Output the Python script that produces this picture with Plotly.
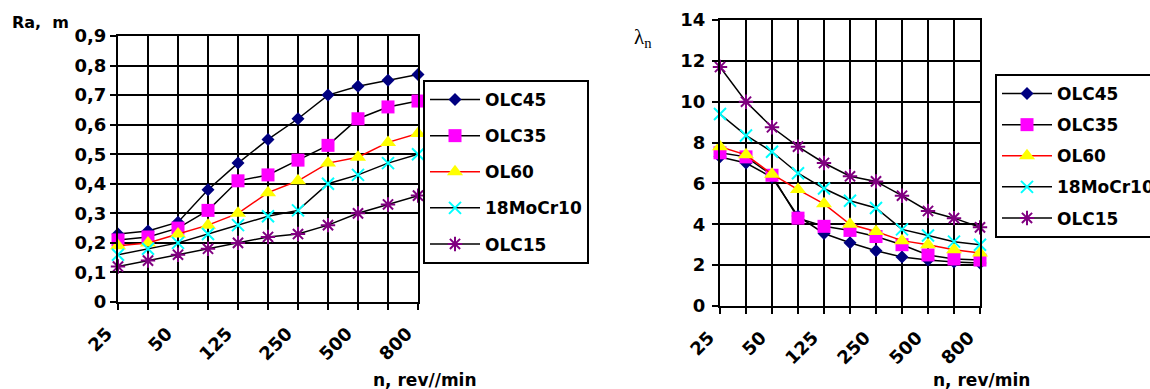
import plotly.graph_objects as go

# ---------------- data ----------------
rpm_labels = ["25", "", "50", "", "125", "", "250", "", "500", "", "800"]
positions = list(range(len(rpm_labels)))

series_names = ["OLC45", "OLC35", "OL60", "18MoCr10", "OLC15"]

ra_olc45 = [0.23, 0.24, 0.27, 0.38, 0.47, 0.55, 0.62, 0.70, 0.73, 0.75, 0.77]
ra_olc35 = [0.21, 0.22, 0.25, 0.31, 0.41, 0.43, 0.48, 0.53, 0.62, 0.66, 0.68]
ra_ol60 = [0.19, 0.20, 0.23, 0.26, 0.30, 0.37, 0.41, 0.47, 0.49, 0.54, 0.57]
ra_18mocr10 = [0.16, 0.18, 0.20, 0.23, 0.26, 0.29, 0.31, 0.40, 0.43, 0.47, 0.50]
ra_olc15 = [0.12, 0.14, 0.16, 0.18, 0.20, 0.22, 0.23, 0.26, 0.30, 0.33, 0.36]

lam_olc45 = [7.3, 7.0, 6.3, 4.4, 3.55, 3.1, 2.7, 2.4, 2.25, 2.15, 2.1]
lam_olc35 = [7.5, 7.3, 6.4, 4.3, 3.9, 3.7, 3.4, 3.0, 2.5, 2.3, 2.25]
lam_ol60 = [7.8, 7.4, 6.45, 5.7, 5.0, 4.0, 3.65, 3.2, 3.0, 2.75, 2.6]
lam_18mocr10 = [9.4, 8.35, 7.55, 6.5, 5.75, 5.15, 4.8, 3.75, 3.45, 3.15, 3.0]
lam_olc15 = [11.7, 10.0, 8.75, 7.8, 7.0, 6.35, 6.1, 5.4, 4.65, 4.3, 3.85]

ra_ticks = [0, 0.1, 0.2, 0.3, 0.4, 0.5, 0.6, 0.7, 0.8, 0.9]
ra_ticktext = ["0", "0,1", "0,2", "0,3", "0,4", "0,5", "0,6", "0,7", "0,8", "0,9"]
lam_ticks = [0, 2, 4, 6, 8, 10, 12, 14]
lam_ticktext = ["0", "2", "4", "6", "8", "10", "12", "14"]

ra_series = [ra_olc45, ra_olc35, ra_ol60, ra_18mocr10, ra_olc15]
lam_series = [lam_olc45, lam_olc35, lam_ol60, lam_18mocr10, lam_olc15]

# ---------------- styles ----------------
styles = [
    dict(line=dict(color="black", width=1.5),
         marker=dict(symbol="diamond", color="#000080", size=10, line=dict(width=0))),
    dict(line=dict(color="black", width=1.5),
         marker=dict(symbol="square", color="#FF00FF", size=13, line=dict(width=0))),
    dict(line=dict(color="#FF0000", width=1.5),
         marker=dict(symbol="triangle-up", color="#FFFF00", size=14, line=dict(width=0))),
    dict(line=dict(color="black", width=1.5),
         marker=dict(symbol="x-thin", color="#00FFFF", size=12,
                     line=dict(width=2, color="#00FFFF"))),
    dict(line=dict(color="black", width=1.5),
         marker=dict(symbol="asterisk", color="#800080", size=12,
                     line=dict(width=2, color="#800080"))),
]

FONT = "DejaVu Sans"
W, H = 1150, 389

fig = go.Figure()
for i, (name, ys) in enumerate(zip(series_names, ra_series)):
    fig.add_trace(go.Scatter(x=positions, y=ys, name=name, mode="lines+markers",
                             xaxis="x", yaxis="y", legend="legend",
                             legendgroup="L%d" % i, cliponaxis=False, **styles[i]))
for i, (name, ys) in enumerate(zip(series_names, lam_series)):
    fig.add_trace(go.Scatter(x=positions, y=ys, name=name, mode="lines+markers",
                             xaxis="x2", yaxis="y2", legend="legend2",
                             legendgroup="R%d" % i, cliponaxis=False, **styles[i]))

axis_common = dict(showgrid=True, gridcolor="black", gridwidth=2, zeroline=False,
                   showline=True, linecolor="black", linewidth=2, mirror=True,
                   ticks="outside", ticklen=6, tickwidth=2, tickcolor="black",
                   automargin=False,
                   tickfont=dict(family=FONT, size=18, color="black", weight="bold"))

xcommon = dict(axis_common, range=[0, 10], tickvals=positions, ticktext=rpm_labels,
               tickangle=-45, ticklabelshift=-11, ticklabelstandoff=6)

fig.update_layout(
    width=W, height=H,
    margin=dict(l=0, r=0, t=0, b=0, pad=0, autoexpand=False),
    paper_bgcolor="white", plot_bgcolor="white",
    showlegend=True,
    xaxis=dict(xcommon, domain=[118 / W, 418 / W], anchor="y"),
    yaxis=dict(axis_common, domain=[1 - 302 / H, 1 - 36 / H], range=[0, 0.9],
               tickvals=ra_ticks, ticktext=ra_ticktext, anchor="x"),
    xaxis2=dict(xcommon, domain=[720 / W, 980 / W], anchor="y2"),
    yaxis2=dict(axis_common, domain=[1 - 306 / H, 1 - 20 / H], range=[0, 14],
                tickvals=lam_ticks, ticktext=lam_ticktext, anchor="x2",
                ticklabelstandoff=3),
    legend=dict(x=423 / W, y=1 - 80 / H, xanchor="left", yanchor="top",
                bordercolor="black", borderwidth=2, bgcolor="white",
                font=dict(family=FONT, size=17, color="black", weight="bold"),
                tracegroupgap=11, itemwidth=50, traceorder="grouped"),
    legend2=dict(x=995 / W, y=1 - 74 / H, xanchor="left", yanchor="top",
                 bordercolor="black", borderwidth=2, bgcolor="white",
                 font=dict(family=FONT, size=17, color="black", weight="bold"),
                 tracegroupgap=6, itemwidth=50, traceorder="grouped"),
    annotations=[
        dict(text="Ra,  m", x=10 / W, y=1 - 22 / H, xref="paper", yref="paper",
             xanchor="left", yanchor="middle", showarrow=False,
             font=dict(family=FONT, size=16, color="black", weight="bold")),
        dict(text="λ<sub>n</sub>", x=632 / W, y=1 - 38 / H, xref="paper", yref="paper",
             xanchor="left", yanchor="middle", showarrow=False,
             font=dict(family="Liberation Serif", size=21, color="black")),
        dict(text="n, rev//min", x=425 / W, y=1 - 380 / H, xref="paper", yref="paper",
             xanchor="center", yanchor="middle", showarrow=False,
             font=dict(family=FONT, size=17, color="black", weight="bold")),
        dict(text="n, rev/min", x=981 / W, y=1 - 380 / H, xref="paper", yref="paper",
             xanchor="center", yanchor="middle", showarrow=False,
             font=dict(family=FONT, size=17, color="black", weight="bold")),
    ],
)

fig.write_html("out.html")
